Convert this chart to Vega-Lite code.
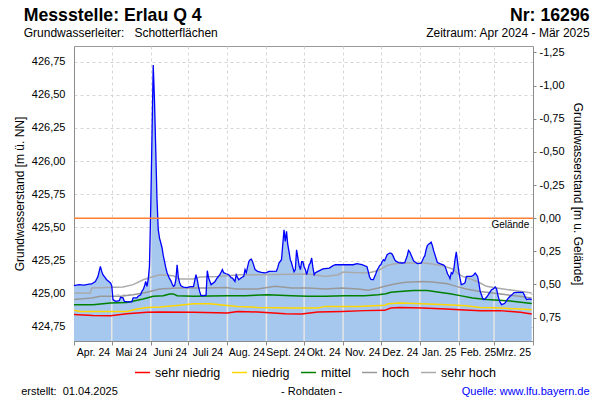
{
  "$schema": "https://vega.github.io/schema/vega-lite/v6.json",
  "width": 459,
  "height": 295,
  "autosize": {"type": "none"},
  "padding": {"left": 74, "top": 46, "right": 67, "bottom": 59},
  "background": "white",
  "config": {
    "font": "Liberation Sans",
    "view": {"stroke": "#9a9a9a"},
    "axis": {"labelFont": "Liberation Sans", "titleFont": "Liberation Sans", "labelColor": "#000", "titleColor": "#000", "domainColor": "#8c8c8c", "tickColor": "#8c8c8c", "gridDash": [3, 3], "gridColor": "#d6d6d6", "titleFontWeight": "normal", "titleFontSize": 12},
    "axisX": {"labelOffset": 19, "labelOverlap": false, "labelBound": false, "labelFlush": false, "labelFontSize": 10.5, "labelPadding": 2, "tickSize": 4, "grid": true},
    "axisLeft": {"labelFontSize": 11, "labelPadding": 9, "tickSize": 0, "labelOverlap": false, "grid": true, "titlePadding": 5},
    "axisRight": {"labelFontSize": 11, "labelPadding": 3, "tickSize": 3, "grid": false, "titlePadding": 6, "labelOverlap": false}
  },
  "datasets": {
    "pegel": [
      {"d": "2024-04-01", "w": 425.061}, {"d": "2024-04-05", "w": 425.069}, {"d": "2024-04-09", "w": 425.065}, {"d": "2024-04-13", "w": 425.072},
      {"d": "2024-04-15", "w": 425.074}, {"d": "2024-04-18", "w": 425.093}, {"d": "2024-04-20", "w": 425.129}, {"d": "2024-04-22", "w": 425.207},
      {"d": "2024-04-23", "w": 425.169}, {"d": "2024-04-24", "w": 425.144}, {"d": "2024-04-27", "w": 425.106}, {"d": "2024-04-30", "w": 425.082},
      {"d": "2024-05-01", "w": 425.061}, {"d": "2024-05-02", "w": 424.956}, {"d": "2024-05-04", "w": 424.943}, {"d": "2024-05-07", "w": 424.948},
      {"d": "2024-05-08", "w": 424.973}, {"d": "2024-05-10", "w": 424.969}, {"d": "2024-05-11", "w": 424.943}, {"d": "2024-05-14", "w": 424.939},
      {"d": "2024-05-17", "w": 424.939}, {"d": "2024-05-18", "w": 424.969}, {"d": "2024-05-21", "w": 424.969}, {"d": "2024-05-22", "w": 424.981},
      {"d": "2024-05-24", "w": 424.993}, {"d": "2024-05-25", "w": 425.018}, {"d": "2024-05-26", "w": 425.031}, {"d": "2024-05-27", "w": 425.056},
      {"d": "2024-05-28", "w": 425.093}, {"d": "2024-05-29", "w": 425.056}, {"d": "2024-05-30", "w": 425.106}, {"d": "2024-05-31", "w": 425.207},
      {"d": "2024-06-01", "w": 425.633}, {"d": "2024-06-02", "w": 426.18}, {"d": "2024-06-03", "w": 426.725}, {"d": "2024-06-04", "w": 426.46},
      {"d": "2024-06-05", "w": 426.085}, {"d": "2024-06-06", "w": 425.71}, {"d": "2024-06-07", "w": 425.483}, {"d": "2024-06-08", "w": 425.42},
      {"d": "2024-06-09", "w": 425.385}, {"d": "2024-06-10", "w": 425.347}, {"d": "2024-06-11", "w": 425.287}, {"d": "2024-06-12", "w": 425.242},
      {"d": "2024-06-13", "w": 425.197}, {"d": "2024-06-14", "w": 425.159}, {"d": "2024-06-15", "w": 425.136}, {"d": "2024-06-16", "w": 425.114},
      {"d": "2024-06-17", "w": 425.099}, {"d": "2024-06-18", "w": 425.076}, {"d": "2024-06-19", "w": 425.056}, {"d": "2024-06-20", "w": 425.061},
      {"d": "2024-06-21", "w": 425.106}, {"d": "2024-06-22", "w": 425.219}, {"d": "2024-06-23", "w": 425.121}, {"d": "2024-06-24", "w": 425.084},
      {"d": "2024-06-25", "w": 425.061}, {"d": "2024-06-27", "w": 425.05}, {"d": "2024-06-30", "w": 425.046}, {"d": "2024-07-01", "w": 425.05},
      {"d": "2024-07-03", "w": 425.054}, {"d": "2024-07-05", "w": 425.054}, {"d": "2024-07-07", "w": 425.144}, {"d": "2024-07-08", "w": 425.106},
      {"d": "2024-07-09", "w": 425.054}, {"d": "2024-07-10", "w": 425.016}, {"d": "2024-07-11", "w": 424.986}, {"d": "2024-07-13", "w": 424.986},
      {"d": "2024-07-15", "w": 424.99}, {"d": "2024-07-16", "w": 425.174}, {"d": "2024-07-17", "w": 425.121}, {"d": "2024-07-19", "w": 425.069},
      {"d": "2024-07-22", "w": 425.091}, {"d": "2024-07-24", "w": 425.121}, {"d": "2024-07-26", "w": 425.144}, {"d": "2024-07-28", "w": 425.182},
      {"d": "2024-07-29", "w": 425.159}, {"d": "2024-07-31", "w": 425.151}, {"d": "2024-08-01", "w": 425.148}, {"d": "2024-08-02", "w": 425.144},
      {"d": "2024-08-04", "w": 425.121}, {"d": "2024-08-05", "w": 425.118}, {"d": "2024-08-07", "w": 425.093}, {"d": "2024-08-08", "w": 425.144},
      {"d": "2024-08-10", "w": 425.106}, {"d": "2024-08-12", "w": 425.121}, {"d": "2024-08-14", "w": 425.131}, {"d": "2024-08-15", "w": 425.182},
      {"d": "2024-08-16", "w": 425.159}, {"d": "2024-08-18", "w": 425.242}, {"d": "2024-08-19", "w": 425.257}, {"d": "2024-08-20", "w": 425.262},
      {"d": "2024-08-21", "w": 425.242}, {"d": "2024-08-23", "w": 425.182}, {"d": "2024-08-25", "w": 425.169}, {"d": "2024-08-28", "w": 425.162},
      {"d": "2024-08-31", "w": 425.157}, {"d": "2024-09-01", "w": 425.16}, {"d": "2024-09-03", "w": 425.169}, {"d": "2024-09-09", "w": 425.171},
      {"d": "2024-09-10", "w": 425.197}, {"d": "2024-09-11", "w": 425.232}, {"d": "2024-09-13", "w": 425.257}, {"d": "2024-09-14", "w": 425.37},
      {"d": "2024-09-15", "w": 425.483}, {"d": "2024-09-16", "w": 425.395}, {"d": "2024-09-17", "w": 425.47}, {"d": "2024-09-18", "w": 425.37},
      {"d": "2024-09-19", "w": 425.317}, {"d": "2024-09-20", "w": 425.257}, {"d": "2024-09-21", "w": 425.232}, {"d": "2024-09-22", "w": 425.197},
      {"d": "2024-09-23", "w": 425.167}, {"d": "2024-09-24", "w": 425.182}, {"d": "2024-09-25", "w": 425.332}, {"d": "2024-09-26", "w": 425.272},
      {"d": "2024-09-27", "w": 425.212}, {"d": "2024-09-28", "w": 425.182}, {"d": "2024-09-29", "w": 425.242}, {"d": "2024-09-30", "w": 425.242},
      {"d": "2024-10-01", "w": 425.204}, {"d": "2024-10-02", "w": 425.182}, {"d": "2024-10-03", "w": 425.144}, {"d": "2024-10-04", "w": 425.182},
      {"d": "2024-10-05", "w": 425.219}, {"d": "2024-10-06", "w": 425.232}, {"d": "2024-10-07", "w": 425.27}, {"d": "2024-10-08", "w": 425.197},
      {"d": "2024-10-09", "w": 425.144}, {"d": "2024-10-10", "w": 425.159}, {"d": "2024-10-12", "w": 425.169}, {"d": "2024-10-16", "w": 425.187},
      {"d": "2024-10-21", "w": 425.194}, {"d": "2024-10-24", "w": 425.212}, {"d": "2024-10-26", "w": 425.219}, {"d": "2024-11-01", "w": 425.219},
      {"d": "2024-11-09", "w": 425.219}, {"d": "2024-11-12", "w": 425.227}, {"d": "2024-11-16", "w": 425.219}, {"d": "2024-11-20", "w": 425.204},
      {"d": "2024-11-21", "w": 425.167}, {"d": "2024-11-22", "w": 425.129}, {"d": "2024-11-23", "w": 425.11}, {"d": "2024-11-24", "w": 425.106},
      {"d": "2024-11-25", "w": 425.106}, {"d": "2024-11-26", "w": 425.129}, {"d": "2024-11-27", "w": 425.151}, {"d": "2024-11-28", "w": 425.178},
      {"d": "2024-11-29", "w": 425.194}, {"d": "2024-11-30", "w": 425.212}, {"d": "2024-12-01", "w": 425.219}, {"d": "2024-12-02", "w": 425.242},
      {"d": "2024-12-03", "w": 425.257}, {"d": "2024-12-04", "w": 425.249}, {"d": "2024-12-05", "w": 425.272}, {"d": "2024-12-06", "w": 425.295},
      {"d": "2024-12-07", "w": 425.302}, {"d": "2024-12-08", "w": 425.306}, {"d": "2024-12-09", "w": 425.307}, {"d": "2024-12-10", "w": 425.298},
      {"d": "2024-12-11", "w": 425.28}, {"d": "2024-12-12", "w": 425.257}, {"d": "2024-12-13", "w": 425.246}, {"d": "2024-12-15", "w": 425.235},
      {"d": "2024-12-18", "w": 425.232}, {"d": "2024-12-20", "w": 425.235}, {"d": "2024-12-22", "w": 425.287}, {"d": "2024-12-23", "w": 425.328},
      {"d": "2024-12-24", "w": 425.317}, {"d": "2024-12-25", "w": 425.295}, {"d": "2024-12-26", "w": 425.272}, {"d": "2024-12-27", "w": 425.249},
      {"d": "2024-12-28", "w": 425.242}, {"d": "2024-12-30", "w": 425.227}, {"d": "2025-01-01", "w": 425.229}, {"d": "2025-01-02", "w": 425.231},
      {"d": "2025-01-03", "w": 425.249}, {"d": "2025-01-04", "w": 425.272}, {"d": "2025-01-05", "w": 425.287}, {"d": "2025-01-06", "w": 425.332},
      {"d": "2025-01-07", "w": 425.363}, {"d": "2025-01-08", "w": 425.374}, {"d": "2025-01-09", "w": 425.381}, {"d": "2025-01-10", "w": 425.389},
      {"d": "2025-01-11", "w": 425.363}, {"d": "2025-01-12", "w": 425.325}, {"d": "2025-01-13", "w": 425.295}, {"d": "2025-01-14", "w": 425.265},
      {"d": "2025-01-15", "w": 425.235}, {"d": "2025-01-17", "w": 425.227}, {"d": "2025-01-20", "w": 425.216}, {"d": "2025-01-21", "w": 425.207},
      {"d": "2025-01-22", "w": 425.182}, {"d": "2025-01-23", "w": 425.151}, {"d": "2025-01-24", "w": 425.136}, {"d": "2025-01-25", "w": 425.114},
      {"d": "2025-01-26", "w": 425.159}, {"d": "2025-01-27", "w": 425.151}, {"d": "2025-01-28", "w": 425.182}, {"d": "2025-01-29", "w": 425.257},
      {"d": "2025-01-30", "w": 425.317}, {"d": "2025-01-31", "w": 425.242}, {"d": "2025-02-01", "w": 425.167}, {"d": "2025-02-02", "w": 425.114},
      {"d": "2025-02-03", "w": 425.069}, {"d": "2025-02-04", "w": 425.072}, {"d": "2025-02-05", "w": 425.076}, {"d": "2025-02-06", "w": 425.084},
      {"d": "2025-02-07", "w": 425.129}, {"d": "2025-02-08", "w": 425.131}, {"d": "2025-02-11", "w": 425.131}, {"d": "2025-02-12", "w": 425.136},
      {"d": "2025-02-13", "w": 425.144}, {"d": "2025-02-14", "w": 425.156}, {"d": "2025-02-15", "w": 425.144}, {"d": "2025-02-16", "w": 425.129},
      {"d": "2025-02-17", "w": 425.076}, {"d": "2025-02-18", "w": 425.018}, {"d": "2025-02-19", "w": 424.993}, {"d": "2025-02-20", "w": 424.967},
      {"d": "2025-02-21", "w": 424.956}, {"d": "2025-02-22", "w": 424.963}, {"d": "2025-02-23", "w": 424.974}, {"d": "2025-02-24", "w": 424.986},
      {"d": "2025-02-25", "w": 425.001}, {"d": "2025-02-26", "w": 425.016}, {"d": "2025-02-27", "w": 425.031}, {"d": "2025-02-28", "w": 425.035},
      {"d": "2025-03-01", "w": 425.042}, {"d": "2025-03-02", "w": 425.051}, {"d": "2025-03-03", "w": 425.038}, {"d": "2025-03-04", "w": 424.993},
      {"d": "2025-03-05", "w": 424.956}, {"d": "2025-03-06", "w": 424.933}, {"d": "2025-03-07", "w": 424.918}, {"d": "2025-03-08", "w": 424.922},
      {"d": "2025-03-09", "w": 424.926}, {"d": "2025-03-10", "w": 424.933}, {"d": "2025-03-11", "w": 424.948}, {"d": "2025-03-12", "w": 424.963},
      {"d": "2025-03-13", "w": 424.974}, {"d": "2025-03-15", "w": 424.99}, {"d": "2025-03-17", "w": 425.009}, {"d": "2025-03-20", "w": 425.011},
      {"d": "2025-03-24", "w": 425.011}, {"d": "2025-03-25", "w": 424.993}, {"d": "2025-03-26", "w": 424.971}, {"d": "2025-03-27", "w": 424.956},
      {"d": "2025-03-29", "w": 424.961}, {"d": "2025-03-31", "w": 424.956}
    ],
    "stats": [
      {"s": "sehr hoch", "d": "2024-04-01", "w": 425.006}, {"s": "sehr hoch", "d": "2024-04-14", "w": 425.004}, {"s": "sehr hoch", "d": "2024-04-15", "w": 425.044},
      {"s": "sehr hoch", "d": "2024-05-10", "w": 425.051}, {"s": "sehr hoch", "d": "2024-05-18", "w": 425.069}, {"s": "sehr hoch", "d": "2024-05-26", "w": 425.106},
      {"s": "sehr hoch", "d": "2024-06-02", "w": 425.127}, {"s": "sehr hoch", "d": "2024-06-08", "w": 425.144}, {"s": "sehr hoch", "d": "2024-06-19", "w": 425.136},
      {"s": "sehr hoch", "d": "2024-06-24", "w": 425.111}, {"s": "sehr hoch", "d": "2024-07-05", "w": 425.111}, {"s": "sehr hoch", "d": "2024-07-10", "w": 425.127},
      {"s": "sehr hoch", "d": "2024-07-24", "w": 425.131}, {"s": "sehr hoch", "d": "2024-08-11", "w": 425.144}, {"s": "sehr hoch", "d": "2024-08-27", "w": 425.144},
      {"s": "sehr hoch", "d": "2024-10-04", "w": 425.149}, {"s": "sehr hoch", "d": "2024-10-18", "w": 425.131}, {"s": "sehr hoch", "d": "2024-10-28", "w": 425.144},
      {"s": "sehr hoch", "d": "2024-11-01", "w": 425.164}, {"s": "sehr hoch", "d": "2024-11-08", "w": 425.161}, {"s": "sehr hoch", "d": "2024-11-21", "w": 425.156},
      {"s": "sehr hoch", "d": "2024-11-29", "w": 425.176}, {"s": "sehr hoch", "d": "2024-12-06", "w": 425.214}, {"s": "sehr hoch", "d": "2024-12-11", "w": 425.224},
      {"s": "sehr hoch", "d": "2024-12-19", "w": 425.232}, {"s": "sehr hoch", "d": "2025-01-04", "w": 425.232}, {"s": "sehr hoch", "d": "2025-01-11", "w": 425.224},
      {"s": "sehr hoch", "d": "2025-01-19", "w": 425.212}, {"s": "sehr hoch", "d": "2025-01-27", "w": 425.187}, {"s": "sehr hoch", "d": "2025-01-31", "w": 425.156},
      {"s": "sehr hoch", "d": "2025-02-04", "w": 425.131}, {"s": "sehr hoch", "d": "2025-02-12", "w": 425.106}, {"s": "sehr hoch", "d": "2025-02-18", "w": 425.081},
      {"s": "sehr hoch", "d": "2025-02-23", "w": 425.056}, {"s": "sehr hoch", "d": "2025-03-03", "w": 425.044}, {"s": "sehr hoch", "d": "2025-03-16", "w": 425.026},
      {"s": "sehr hoch", "d": "2025-03-27", "w": 425.011}, {"s": "sehr hoch", "d": "2025-03-31", "w": 425.006},
      {"s": "hoch", "d": "2024-04-01", "w": 424.956}, {"s": "hoch", "d": "2024-04-15", "w": 424.969}, {"s": "hoch", "d": "2024-04-22", "w": 424.981},
      {"s": "hoch", "d": "2024-05-08", "w": 424.981}, {"s": "hoch", "d": "2024-05-18", "w": 424.993}, {"s": "hoch", "d": "2024-05-29", "w": 425.011},
      {"s": "hoch", "d": "2024-06-08", "w": 425.036}, {"s": "hoch", "d": "2024-06-22", "w": 425.044}, {"s": "hoch", "d": "2024-07-16", "w": 425.044},
      {"s": "hoch", "d": "2024-07-31", "w": 425.048}, {"s": "hoch", "d": "2024-08-08", "w": 425.036}, {"s": "hoch", "d": "2024-08-25", "w": 425.036},
      {"s": "hoch", "d": "2024-09-08", "w": 425.056}, {"s": "hoch", "d": "2024-09-21", "w": 425.044}, {"s": "hoch", "d": "2024-10-04", "w": 425.044},
      {"s": "hoch", "d": "2024-10-18", "w": 425.036}, {"s": "hoch", "d": "2024-10-31", "w": 425.044}, {"s": "hoch", "d": "2024-11-13", "w": 425.036},
      {"s": "hoch", "d": "2024-11-21", "w": 425.026}, {"s": "hoch", "d": "2024-11-29", "w": 425.044}, {"s": "hoch", "d": "2024-12-05", "w": 425.059},
      {"s": "hoch", "d": "2024-12-13", "w": 425.076}, {"s": "hoch", "d": "2024-12-21", "w": 425.086}, {"s": "hoch", "d": "2025-01-03", "w": 425.093},
      {"s": "hoch", "d": "2025-01-11", "w": 425.089}, {"s": "hoch", "d": "2025-01-23", "w": 425.076}, {"s": "hoch", "d": "2025-01-30", "w": 425.056},
      {"s": "hoch", "d": "2025-02-07", "w": 425.036}, {"s": "hoch", "d": "2025-02-18", "w": 425.018}, {"s": "hoch", "d": "2025-02-28", "w": 425.006},
      {"s": "hoch", "d": "2025-03-11", "w": 424.993}, {"s": "hoch", "d": "2025-03-21", "w": 424.981}, {"s": "hoch", "d": "2025-03-31", "w": 424.969},
      {"s": "mittel", "d": "2024-04-01", "w": 424.918}, {"s": "mittel", "d": "2024-04-16", "w": 424.918}, {"s": "mittel", "d": "2024-04-30", "w": 424.931},
      {"s": "mittel", "d": "2024-05-13", "w": 424.935}, {"s": "mittel", "d": "2024-05-26", "w": 424.961}, {"s": "mittel", "d": "2024-06-03", "w": 424.981},
      {"s": "mittel", "d": "2024-06-11", "w": 424.986}, {"s": "mittel", "d": "2024-06-16", "w": 424.999}, {"s": "mittel", "d": "2024-06-19", "w": 424.999},
      {"s": "mittel", "d": "2024-06-22", "w": 424.986}, {"s": "mittel", "d": "2024-07-05", "w": 424.981}, {"s": "mittel", "d": "2024-08-01", "w": 424.986},
      {"s": "mittel", "d": "2024-08-15", "w": 424.986}, {"s": "mittel", "d": "2024-09-02", "w": 424.993}, {"s": "mittel", "d": "2024-09-21", "w": 424.986},
      {"s": "mittel", "d": "2024-10-04", "w": 424.981}, {"s": "mittel", "d": "2024-10-18", "w": 424.981}, {"s": "mittel", "d": "2024-11-02", "w": 424.986},
      {"s": "mittel", "d": "2024-11-18", "w": 424.986}, {"s": "mittel", "d": "2024-11-29", "w": 424.993}, {"s": "mittel", "d": "2024-12-05", "w": 425.001},
      {"s": "mittel", "d": "2024-12-09", "w": 425.011}, {"s": "mittel", "d": "2024-12-16", "w": 425.018}, {"s": "mittel", "d": "2024-12-27", "w": 425.024},
      {"s": "mittel", "d": "2025-01-07", "w": 425.024}, {"s": "mittel", "d": "2025-01-15", "w": 425.014}, {"s": "mittel", "d": "2025-01-25", "w": 425.001},
      {"s": "mittel", "d": "2025-02-02", "w": 424.986}, {"s": "mittel", "d": "2025-02-12", "w": 424.969}, {"s": "mittel", "d": "2025-02-23", "w": 424.956},
      {"s": "mittel", "d": "2025-03-11", "w": 424.948}, {"s": "mittel", "d": "2025-03-24", "w": 424.935}, {"s": "mittel", "d": "2025-03-31", "w": 424.926},
      {"s": "niedrig", "d": "2024-04-01", "w": 424.875}, {"s": "niedrig", "d": "2024-04-06", "w": 424.867}, {"s": "niedrig", "d": "2024-05-13", "w": 424.867},
      {"s": "niedrig", "d": "2024-05-21", "w": 424.885}, {"s": "niedrig", "d": "2024-05-29", "w": 424.897}, {"s": "niedrig", "d": "2024-06-08", "w": 424.9},
      {"s": "niedrig", "d": "2024-06-22", "w": 424.912}, {"s": "niedrig", "d": "2024-07-05", "w": 424.925}, {"s": "niedrig", "d": "2024-07-18", "w": 424.925},
      {"s": "niedrig", "d": "2024-08-01", "w": 424.912}, {"s": "niedrig", "d": "2024-08-09", "w": 424.905}, {"s": "niedrig", "d": "2024-08-25", "w": 424.897},
      {"s": "niedrig", "d": "2024-09-21", "w": 424.893}, {"s": "niedrig", "d": "2024-10-12", "w": 424.893}, {"s": "niedrig", "d": "2024-10-18", "w": 424.905},
      {"s": "niedrig", "d": "2024-11-13", "w": 424.905}, {"s": "niedrig", "d": "2024-12-04", "w": 424.914}, {"s": "niedrig", "d": "2024-12-07", "w": 424.925},
      {"s": "niedrig", "d": "2024-12-16", "w": 424.93}, {"s": "niedrig", "d": "2025-01-03", "w": 424.925}, {"s": "niedrig", "d": "2025-01-22", "w": 424.918},
      {"s": "niedrig", "d": "2025-02-07", "w": 424.91}, {"s": "niedrig", "d": "2025-02-18", "w": 424.897}, {"s": "niedrig", "d": "2025-03-06", "w": 424.893},
      {"s": "niedrig", "d": "2025-03-22", "w": 424.885}, {"s": "niedrig", "d": "2025-03-31", "w": 424.88},
      {"s": "sehr niedrig", "d": "2024-04-01", "w": 424.843}, {"s": "sehr niedrig", "d": "2024-04-16", "w": 424.837}, {"s": "sehr niedrig", "d": "2024-04-30", "w": 424.835},
      {"s": "sehr niedrig", "d": "2024-05-13", "w": 424.85}, {"s": "sehr niedrig", "d": "2024-05-29", "w": 424.86}, {"s": "sehr niedrig", "d": "2024-06-08", "w": 424.863},
      {"s": "sehr niedrig", "d": "2024-07-05", "w": 424.86}, {"s": "sehr niedrig", "d": "2024-08-01", "w": 424.855}, {"s": "sehr niedrig", "d": "2024-08-09", "w": 424.867},
      {"s": "sehr niedrig", "d": "2024-08-25", "w": 424.863}, {"s": "sehr niedrig", "d": "2024-09-16", "w": 424.85}, {"s": "sehr niedrig", "d": "2024-09-29", "w": 424.848},
      {"s": "sehr niedrig", "d": "2024-10-12", "w": 424.863}, {"s": "sehr niedrig", "d": "2024-10-31", "w": 424.867}, {"s": "sehr niedrig", "d": "2024-11-18", "w": 424.873},
      {"s": "sehr niedrig", "d": "2024-12-04", "w": 424.875}, {"s": "sehr niedrig", "d": "2024-12-09", "w": 424.893}, {"s": "sehr niedrig", "d": "2024-12-16", "w": 424.897},
      {"s": "sehr niedrig", "d": "2025-01-03", "w": 424.893}, {"s": "sehr niedrig", "d": "2025-01-22", "w": 424.885}, {"s": "sehr niedrig", "d": "2025-02-02", "w": 424.88},
      {"s": "sehr niedrig", "d": "2025-02-18", "w": 424.873}, {"s": "sehr niedrig", "d": "2025-03-06", "w": 424.873}, {"s": "sehr niedrig", "d": "2025-03-22", "w": 424.86},
      {"s": "sehr niedrig", "d": "2025-03-31", "w": 424.848}
    ]
  },
  "layer": [
    {
      "layer": [
        {
          "encoding": {
            "x": {
              "field": "d", "type": "temporal",
              "scale": {"type": "utc", "domain": [{"year": 2024, "month": 4, "date": 1, "utc": true}, {"year": 2025, "month": 4, "date": 1, "utc": true}]},
              "axis": {
                "title": null,
                "values": [
                  {"year": 2024, "month": 4, "date": 1, "utc": true}, {"year": 2024, "month": 5, "date": 1, "utc": true}, {"year": 2024, "month": 6, "date": 1, "utc": true},
                  {"year": 2024, "month": 7, "date": 1, "utc": true}, {"year": 2024, "month": 8, "date": 1, "utc": true}, {"year": 2024, "month": 9, "date": 1, "utc": true},
                  {"year": 2024, "month": 10, "date": 1, "utc": true}, {"year": 2024, "month": 11, "date": 1, "utc": true}, {"year": 2024, "month": 12, "date": 1, "utc": true},
                  {"year": 2025, "month": 1, "date": 1, "utc": true}, {"year": 2025, "month": 2, "date": 1, "utc": true}, {"year": 2025, "month": 3, "date": 1, "utc": true},
                  {"year": 2025, "month": 4, "date": 1, "utc": true}
                ],
                "labelExpr": "(utcyear(datum.value) == 2025 && utcmonth(datum.value) == 3) ? '' : ['Jan.','Feb.','Mrz.','Apr.','Mai','Juni','Juli','Aug.','Sept.','Okt.','Nov.','Dez.'][utcmonth(datum.value)] + ' ' + utcFormat(datum.value, '%y')"
              }
            },
            "y": {
              "field": "w", "type": "quantitative",
              "scale": {"domain": [424.644, 426.868], "nice": false, "zero": false},
              "axis": {
                "title": "Grundwasserstand [m ü. NN]",
                "values": [424.75, 425, 425.25, 425.5, 425.75, 426, 426.25, 426.5, 426.75],
                "labelExpr": "replace(format(datum.value, '.2f'), '.', ',')"
              }
            }
          },
          "layer": [
            {
              "data": {"name": "pegel"},
              "mark": {"type": "area", "color": "#a6c8ef"},
              "encoding": {"y2": {"datum": 424.644}}
            },
            {
              "data": {"name": "pegel"},
              "transform": [{"filter": "utcdate(toDate(datum.d)) == 1 && !(utcyear(toDate(datum.d)) == 2024 && utcmonth(toDate(datum.d)) == 3)"}],
              "mark": {"type": "rule", "color": "#e6e6e6", "strokeWidth": 1.5},
              "encoding": {"y2": {"datum": 424.644}}
            },
            {
              "data": {"name": "stats"},
              "mark": {"type": "line", "strokeWidth": 1.5},
              "encoding": {
                "color": {
                  "field": "s", "type": "nominal",
                  "scale": {"domain": ["sehr niedrig", "niedrig", "mittel", "hoch", "sehr hoch"], "range": ["#ff0000", "#ffd700", "#008000", "#999999", "#aaaaaa"]},
                  "legend": {
                    "orient": "none", "direction": "horizontal", "legendX": 60, "legendY": 318, "title": null,
                    "symbolType": "stroke", "symbolSize": 225, "symbolStrokeWidth": 1.5,
                    "labelFontSize": 12.5, "labelOffset": 4, "columnPadding": 8, "padding": 0, "labelColor": "#000", "labelFont": "Liberation Sans"
                  }
                }
              }
            },
            {
              "data": {"name": "pegel"},
              "mark": {"type": "line", "color": "#0000ff", "strokeWidth": 1.3}
            }
          ]
        },
        {
          "data": {"values": [{}]},
          "layer": [
            {"mark": {"type": "text", "text": "Messstelle: Erlau Q 4", "align": "left", "baseline": "alphabetic", "fontSize": 17.7, "fontWeight": "bold", "color": "#000"},
             "encoding": {"x": {"datum": {"year": 2024, "month": 2, "date": 21, "utc": true}, "type": "temporal", "axis": {"title": null, "values": [{"year": 2024, "month": 4, "date": 1, "utc": true}, {"year": 2024, "month": 5, "date": 1, "utc": true}, {"year": 2024, "month": 6, "date": 1, "utc": true}, {"year": 2024, "month": 7, "date": 1, "utc": true}, {"year": 2024, "month": 8, "date": 1, "utc": true}, {"year": 2024, "month": 9, "date": 1, "utc": true}, {"year": 2024, "month": 10, "date": 1, "utc": true}, {"year": 2024, "month": 11, "date": 1, "utc": true}, {"year": 2024, "month": 12, "date": 1, "utc": true}, {"year": 2025, "month": 1, "date": 1, "utc": true}, {"year": 2025, "month": 2, "date": 1, "utc": true}, {"year": 2025, "month": 3, "date": 1, "utc": true}, {"year": 2025, "month": 4, "date": 1, "utc": true}], "labelExpr": "(utcyear(datum.value) == 2025 && utcmonth(datum.value) == 3) ? '' : ['Jan.','Feb.','Mrz.','Apr.','Mai','Juni','Juli','Aug.','Sept.','Okt.','Nov.','Dez.'][utcmonth(datum.value)] + ' ' + utcFormat(datum.value, '%y')"}},
                          "y": {"datum": 427.059, "type": "quantitative", "axis": {"title": "Grundwasserstand [m ü. NN]", "values": [424.75, 425, 425.25, 425.5, 425.75, 426, 426.25, 426.5, 426.75], "labelExpr": "replace(format(datum.value, '.2f'), '.', ',')"}}}},
            {"mark": {"type": "text", "text": "Nr: 16296", "align": "right", "baseline": "alphabetic", "fontSize": 17.7, "fontWeight": "bold", "color": "#000"},
             "encoding": {"x": {"datum": {"year": 2025, "month": 5, "date": 16, "utc": true}, "type": "temporal", "axis": {"title": null, "values": [{"year": 2024, "month": 4, "date": 1, "utc": true}, {"year": 2024, "month": 5, "date": 1, "utc": true}, {"year": 2024, "month": 6, "date": 1, "utc": true}, {"year": 2024, "month": 7, "date": 1, "utc": true}, {"year": 2024, "month": 8, "date": 1, "utc": true}, {"year": 2024, "month": 9, "date": 1, "utc": true}, {"year": 2024, "month": 10, "date": 1, "utc": true}, {"year": 2024, "month": 11, "date": 1, "utc": true}, {"year": 2024, "month": 12, "date": 1, "utc": true}, {"year": 2025, "month": 1, "date": 1, "utc": true}, {"year": 2025, "month": 2, "date": 1, "utc": true}, {"year": 2025, "month": 3, "date": 1, "utc": true}, {"year": 2025, "month": 4, "date": 1, "utc": true}], "labelExpr": "(utcyear(datum.value) == 2025 && utcmonth(datum.value) == 3) ? '' : ['Jan.','Feb.','Mrz.','Apr.','Mai','Juni','Juli','Aug.','Sept.','Okt.','Nov.','Dez.'][utcmonth(datum.value)] + ' ' + utcFormat(datum.value, '%y')"}},
                          "y": {"datum": 427.059, "type": "quantitative", "axis": {"title": "Grundwasserstand [m ü. NN]", "values": [424.75, 425, 425.25, 425.5, 425.75, 426, 426.25, 426.5, 426.75], "labelExpr": "replace(format(datum.value, '.2f'), '.', ',')"}}}},
            {"mark": {"type": "text", "text": "Grundwasserleiter:\u00a0\u00a0\u00a0Schotterflächen", "align": "left", "baseline": "alphabetic", "fontSize": 12, "color": "#000"},
             "encoding": {"x": {"datum": {"year": 2024, "month": 2, "date": 21, "utc": true}, "type": "temporal", "axis": {"title": null, "values": [{"year": 2024, "month": 4, "date": 1, "utc": true}, {"year": 2024, "month": 5, "date": 1, "utc": true}, {"year": 2024, "month": 6, "date": 1, "utc": true}, {"year": 2024, "month": 7, "date": 1, "utc": true}, {"year": 2024, "month": 8, "date": 1, "utc": true}, {"year": 2024, "month": 9, "date": 1, "utc": true}, {"year": 2024, "month": 10, "date": 1, "utc": true}, {"year": 2024, "month": 11, "date": 1, "utc": true}, {"year": 2024, "month": 12, "date": 1, "utc": true}, {"year": 2025, "month": 1, "date": 1, "utc": true}, {"year": 2025, "month": 2, "date": 1, "utc": true}, {"year": 2025, "month": 3, "date": 1, "utc": true}, {"year": 2025, "month": 4, "date": 1, "utc": true}], "labelExpr": "(utcyear(datum.value) == 2025 && utcmonth(datum.value) == 3) ? '' : ['Jan.','Feb.','Mrz.','Apr.','Mai','Juni','Juli','Aug.','Sept.','Okt.','Nov.','Dez.'][utcmonth(datum.value)] + ' ' + utcFormat(datum.value, '%y')"}},
                          "y": {"datum": 426.938, "type": "quantitative", "axis": {"title": "Grundwasserstand [m ü. NN]", "values": [424.75, 425, 425.25, 425.5, 425.75, 426, 426.25, 426.5, 426.75], "labelExpr": "replace(format(datum.value, '.2f'), '.', ',')"}}}},
            {"mark": {"type": "text", "text": "Zeitraum: Apr 2024 - Mär 2025", "align": "right", "baseline": "alphabetic", "fontSize": 12, "color": "#000"},
             "encoding": {"x": {"datum": {"year": 2025, "month": 5, "date": 16, "utc": true}, "type": "temporal", "axis": {"title": null, "values": [{"year": 2024, "month": 4, "date": 1, "utc": true}, {"year": 2024, "month": 5, "date": 1, "utc": true}, {"year": 2024, "month": 6, "date": 1, "utc": true}, {"year": 2024, "month": 7, "date": 1, "utc": true}, {"year": 2024, "month": 8, "date": 1, "utc": true}, {"year": 2024, "month": 9, "date": 1, "utc": true}, {"year": 2024, "month": 10, "date": 1, "utc": true}, {"year": 2024, "month": 11, "date": 1, "utc": true}, {"year": 2024, "month": 12, "date": 1, "utc": true}, {"year": 2025, "month": 1, "date": 1, "utc": true}, {"year": 2025, "month": 2, "date": 1, "utc": true}, {"year": 2025, "month": 3, "date": 1, "utc": true}, {"year": 2025, "month": 4, "date": 1, "utc": true}], "labelExpr": "(utcyear(datum.value) == 2025 && utcmonth(datum.value) == 3) ? '' : ['Jan.','Feb.','Mrz.','Apr.','Mai','Juni','Juli','Aug.','Sept.','Okt.','Nov.','Dez.'][utcmonth(datum.value)] + ' ' + utcFormat(datum.value, '%y')"}},
                          "y": {"datum": 426.938, "type": "quantitative", "axis": {"title": "Grundwasserstand [m ü. NN]", "values": [424.75, 425, 425.25, 425.5, 425.75, 426, 426.25, 426.5, 426.75], "labelExpr": "replace(format(datum.value, '.2f'), '.', ',')"}}}},
            {"mark": {"type": "text", "text": "erstellt:\u00a0\u00a001.04.2025", "align": "left", "baseline": "alphabetic", "fontSize": 11, "color": "#000"},
             "encoding": {"x": {"datum": {"year": 2024, "month": 2, "date": 19, "utc": true}, "type": "temporal", "axis": {"title": null, "values": [{"year": 2024, "month": 4, "date": 1, "utc": true}, {"year": 2024, "month": 5, "date": 1, "utc": true}, {"year": 2024, "month": 6, "date": 1, "utc": true}, {"year": 2024, "month": 7, "date": 1, "utc": true}, {"year": 2024, "month": 8, "date": 1, "utc": true}, {"year": 2024, "month": 9, "date": 1, "utc": true}, {"year": 2024, "month": 10, "date": 1, "utc": true}, {"year": 2024, "month": 11, "date": 1, "utc": true}, {"year": 2024, "month": 12, "date": 1, "utc": true}, {"year": 2025, "month": 1, "date": 1, "utc": true}, {"year": 2025, "month": 2, "date": 1, "utc": true}, {"year": 2025, "month": 3, "date": 1, "utc": true}, {"year": 2025, "month": 4, "date": 1, "utc": true}], "labelExpr": "(utcyear(datum.value) == 2025 && utcmonth(datum.value) == 3) ? '' : ['Jan.','Feb.','Mrz.','Apr.','Mai','Juni','Juli','Aug.','Sept.','Okt.','Nov.','Dez.'][utcmonth(datum.value)] + ' ' + utcFormat(datum.value, '%y')"}},
                          "y": {"datum": 424.237, "type": "quantitative", "axis": {"title": "Grundwasserstand [m ü. NN]", "values": [424.75, 425, 425.25, 425.5, 425.75, 426, 426.25, 426.5, 426.75], "labelExpr": "replace(format(datum.value, '.2f'), '.', ',')"}}}},
            {"mark": {"type": "text", "text": "- Rohdaten -", "align": "center", "baseline": "alphabetic", "fontSize": 11, "color": "#000"},
             "encoding": {"x": {"datum": {"year": 2024, "month": 10, "date": 7, "utc": true}, "type": "temporal", "axis": {"title": null, "values": [{"year": 2024, "month": 4, "date": 1, "utc": true}, {"year": 2024, "month": 5, "date": 1, "utc": true}, {"year": 2024, "month": 6, "date": 1, "utc": true}, {"year": 2024, "month": 7, "date": 1, "utc": true}, {"year": 2024, "month": 8, "date": 1, "utc": true}, {"year": 2024, "month": 9, "date": 1, "utc": true}, {"year": 2024, "month": 10, "date": 1, "utc": true}, {"year": 2024, "month": 11, "date": 1, "utc": true}, {"year": 2024, "month": 12, "date": 1, "utc": true}, {"year": 2025, "month": 1, "date": 1, "utc": true}, {"year": 2025, "month": 2, "date": 1, "utc": true}, {"year": 2025, "month": 3, "date": 1, "utc": true}, {"year": 2025, "month": 4, "date": 1, "utc": true}], "labelExpr": "(utcyear(datum.value) == 2025 && utcmonth(datum.value) == 3) ? '' : ['Jan.','Feb.','Mrz.','Apr.','Mai','Juni','Juli','Aug.','Sept.','Okt.','Nov.','Dez.'][utcmonth(datum.value)] + ' ' + utcFormat(datum.value, '%y')"}},
                          "y": {"datum": 424.237, "type": "quantitative", "axis": {"title": "Grundwasserstand [m ü. NN]", "values": [424.75, 425, 425.25, 425.5, 425.75, 426, 426.25, 426.5, 426.75], "labelExpr": "replace(format(datum.value, '.2f'), '.', ',')"}}}},
            {"mark": {"type": "text", "text": "Quelle: www.lfu.bayern.de", "align": "right", "baseline": "alphabetic", "fontSize": 11, "color": "#0000ff"},
             "encoding": {"x": {"datum": {"year": 2025, "month": 5, "date": 16, "utc": true}, "type": "temporal", "axis": {"title": null, "values": [{"year": 2024, "month": 4, "date": 1, "utc": true}, {"year": 2024, "month": 5, "date": 1, "utc": true}, {"year": 2024, "month": 6, "date": 1, "utc": true}, {"year": 2024, "month": 7, "date": 1, "utc": true}, {"year": 2024, "month": 8, "date": 1, "utc": true}, {"year": 2024, "month": 9, "date": 1, "utc": true}, {"year": 2024, "month": 10, "date": 1, "utc": true}, {"year": 2024, "month": 11, "date": 1, "utc": true}, {"year": 2024, "month": 12, "date": 1, "utc": true}, {"year": 2025, "month": 1, "date": 1, "utc": true}, {"year": 2025, "month": 2, "date": 1, "utc": true}, {"year": 2025, "month": 3, "date": 1, "utc": true}, {"year": 2025, "month": 4, "date": 1, "utc": true}], "labelExpr": "(utcyear(datum.value) == 2025 && utcmonth(datum.value) == 3) ? '' : ['Jan.','Feb.','Mrz.','Apr.','Mai','Juni','Juli','Aug.','Sept.','Okt.','Nov.','Dez.'][utcmonth(datum.value)] + ' ' + utcFormat(datum.value, '%y')"}},
                          "y": {"datum": 424.237, "type": "quantitative", "axis": {"title": "Grundwasserstand [m ü. NN]", "values": [424.75, 425, 425.25, 425.5, 425.75, 426, 426.25, 426.5, 426.75], "labelExpr": "replace(format(datum.value, '.2f'), '.', ',')"}}}},
            {"mark": {"type": "text", "text": "Gelände", "align": "right", "baseline": "alphabetic", "fontSize": 10, "color": "#000"},
             "encoding": {"x": {"datum": {"year": 2025, "month": 3, "date": 29, "utc": true}, "type": "temporal", "axis": {"title": null, "values": [{"year": 2024, "month": 4, "date": 1, "utc": true}, {"year": 2024, "month": 5, "date": 1, "utc": true}, {"year": 2024, "month": 6, "date": 1, "utc": true}, {"year": 2024, "month": 7, "date": 1, "utc": true}, {"year": 2024, "month": 8, "date": 1, "utc": true}, {"year": 2024, "month": 9, "date": 1, "utc": true}, {"year": 2024, "month": 10, "date": 1, "utc": true}, {"year": 2024, "month": 11, "date": 1, "utc": true}, {"year": 2024, "month": 12, "date": 1, "utc": true}, {"year": 2025, "month": 1, "date": 1, "utc": true}, {"year": 2025, "month": 2, "date": 1, "utc": true}, {"year": 2025, "month": 3, "date": 1, "utc": true}, {"year": 2025, "month": 4, "date": 1, "utc": true}], "labelExpr": "(utcyear(datum.value) == 2025 && utcmonth(datum.value) == 3) ? '' : ['Jan.','Feb.','Mrz.','Apr.','Mai','Juni','Juli','Aug.','Sept.','Okt.','Nov.','Dez.'][utcmonth(datum.value)] + ' ' + utcFormat(datum.value, '%y')"}},
                          "y": {"datum": 425.496, "type": "quantitative", "axis": {"title": "Grundwasserstand [m ü. NN]", "values": [424.75, 425, 425.25, 425.5, 425.75, 426, 426.25, 426.5, 426.75], "labelExpr": "replace(format(datum.value, '.2f'), '.', ',')"}}}}
          ]
        }
      ]
    },
    {
      "data": {"values": [{}]},
      "mark": {"type": "rule", "color": "#ff8033", "strokeWidth": 1.5},
      "encoding": {
        "y": {
          "datum": 0, "type": "quantitative",
          "scale": {"domain": [-1.298, 0.926], "reverse": true, "nice": false, "zero": false},
          "axis": {
            "orient": "right",
            "title": "Grundwasserstand [m u. Gelände]",
            "values": [-1.25, -1, -0.75, -0.5, -0.25, 0, 0.25, 0.5, 0.75],
            "labelExpr": "replace(replace(format(datum.value, '.2f'), '.', ','), '\u2212', '-')"
          }
        }
      }
    }
  ],
  "resolve": {"scale": {"y": "independent"}}
}
